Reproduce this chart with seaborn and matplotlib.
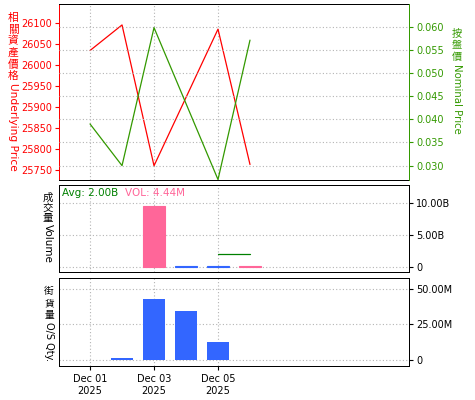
import numpy as np
import pandas as pd
import matplotlib
matplotlib.use('Agg')
import matplotlib.pyplot as plt
import seaborn as sns

# price lines (day of Dec 2025)
price_days = [1, 2, 3, 5, 6]
underlying = [26035, 26096, 25760, 26086, 25763]
nominal = [0.0390, 0.0300, 0.0598, 0.0270, 0.0571]

# volume panel (billions)
vol_days = [3, 4, 5, 6]
volume_b = [9.5, 0.12, 0.12, 0.12]
vol_dir = ['up', 'down', 'down', 'up']
avg_days = [5, 6]
avg_vol = [2.0, 2.0]

# outstanding quantity (millions)
os_days = [2, 3, 4, 5]
os_qty = [1.4, 43.0, 34.5, 12.9]

x_ticks = [1, 3, 5]
x_labels = ['Dec 01\n2025', 'Dec 03\n2025', 'Dec 05\n2025']
left_ticks = [25750, 25800, 25850, 25900, 25950, 26000, 26050, 26100]
right_ticks = [0.030, 0.035, 0.040, 0.045, 0.050, 0.055, 0.060]
vol_ticks = [0, 5, 10]
vol_labels = ['0', '5.00B', '10.00B']
os_ticks = [0, 25, 50]
os_labels = ['0', '25.00M', '50.00M']

RED = '#ff0000'
GREEN = '#339900'
DKGREEN = '#008000'
PINK = '#ff6699'
BLUE = '#3366ff'
GRID = '#b4b4b4'
CJK = 'Noto Sans CJK TC'

sns.set_theme(style='white')
plt.rcParams['font.family'] = ['DejaVu Sans', CJK]

W, H = 475, 400
fig = plt.figure(figsize=(W / 100, H / 100), dpi=100)
fig.patch.set_facecolor('white')


def box(top, bottom):
    return [59 / W, 1 - bottom / H, 350 / W, (bottom - top) / H]


ax1 = fig.add_axes(box(4, 180))
ax2 = fig.add_axes(box(185, 272), sharex=ax1)
ax3 = fig.add_axes(box(278, 366), sharex=ax1)
tw = ax1.twinx()

prices = pd.DataFrame({'day': price_days, 'under': underlying, 'nom': nominal})
sns.lineplot(data=prices, x='day', y='under', color=RED, lw=0.9, ax=ax1)
sns.lineplot(data=prices, x='day', y='nom', color=GREEN, lw=0.9, ax=tw)

vols = pd.DataFrame({'day': vol_days, 'vol': volume_b, 'dir': vol_dir})
sns.barplot(data=vols, x='day', y='vol', hue='dir', palette={'up': PINK, 'down': BLUE},
            native_scale=True, width=0.69, dodge=False, legend=False, saturation=1,
            ax=ax2)
for p in ax2.patches:
    p.set_edgecolor(p.get_facecolor())
    p.set_linewidth(0.8)
sns.lineplot(x=avg_days, y=avg_vol, color=DKGREEN, lw=0.9, ax=ax2)

oss = pd.DataFrame({'day': os_days, 'qty': os_qty})
sns.barplot(data=oss, x='day', y='qty', color=BLUE, saturation=1,
            native_scale=True, width=0.69, linewidth=0, ax=ax3)

ax1.set_ylim(25726, 26146)
tw.set_ylim(0.0269, 0.0649)
ax2.set_ylim(-0.8, 12.8)
ax3.set_ylim(-4.2, 57.7)

dot = (0, (1, 1))
for ax in (ax1, ax2, ax3, tw):
    ax.set_xlabel('')
    ax.set_ylabel('')
    ax.set_facecolor('none')
    for s in ax.spines.values():
        s.set_linewidth(0.72)
        s.set_color('black')
        s.set_linestyle(dot)

# panel 1
ax1.set_xticks(x_ticks)
ax1.set_yticks(left_ticks)
ax1.yaxis.set_major_formatter(matplotlib.ticker.StrMethodFormatter('{x:.0f}'))
ax1.tick_params(axis='y', colors=RED, labelsize=7, length=3, width=0.8, pad=2,
                left=True, labelleft=True)
ax1.tick_params(axis='x', length=0, labelbottom=False)
ax1.spines['left'].set_linestyle('-')
ax1.spines['left'].set_color(RED)
ax1.spines['right'].set_visible(False)
ax1.grid(axis='x', color=GRID, ls=(0, (1, 2)), lw=0.8)

tw.set_yticks(right_ticks)
tw.yaxis.set_major_formatter(matplotlib.ticker.StrMethodFormatter('{x:.3f}'))
tw.tick_params(axis='y', colors=GREEN, labelsize=7, length=3, width=0.8, pad=2, right=True)
tw.spines['right'].set_linestyle('-')
tw.spines['right'].set_color(GREEN)
for s in ('left', 'top', 'bottom'):
    tw.spines[s].set_visible(False)
tw.grid(axis='y', color=GRID, ls=(0, (1, 2)), lw=0.8)

# panels 2 and 3
for ax, ticks, labels in ((ax2, vol_ticks, vol_labels), (ax3, os_ticks, os_labels)):
    ax.yaxis.tick_right()
    ax.set_yticks(ticks)
    ax.set_yticklabels(labels)
    ax.tick_params(axis='y', colors='black', labelsize=7, length=3, width=0.8, pad=2,
                   right=True, left=False)
    ax.spines['right'].set_linestyle('-')
    ax.grid(True, color=GRID, ls=(0, (1, 2)), lw=0.8)
    ax.set_axisbelow(True)

ax2.tick_params(axis='x', length=0, labelbottom=False)
ax3.spines['bottom'].set_linestyle('-')
ax3.set_xticks(x_ticks)
ax3.set_xticklabels(x_labels)
ax3.tick_params(axis='x', labelsize=7, length=3, width=0.8, pad=3, bottom=True,
                colors='black')
ax1.set_xlim(0.03, 10.97)

ax2.text(0.008, 0.97, 'Avg: 2.00B', transform=ax2.transAxes, color=DKGREEN,
         fontsize=7.5, ha='left', va='top')
ax2.text(0.188, 0.97, 'VOL: 4.44M', transform=ax2.transAxes, color=PINK,
         fontsize=7.5, ha='left', va='top')


def vlabel(x, y0, cjk, latin, color, size, step):
    for i, ch in enumerate(cjk):
        fig.text(x / W, 1 - (y0 + step * i + step / 2) / H, ch, ha='center', va='center',
                 fontsize=size, color=color, family=CJK)
    fig.text(x / W, 1 - (y0 + step * len(cjk) + 1) / H, latin, rotation=270,
             ha='center', va='top', fontsize=size, color=color)


vlabel(13, 12, '相關資產價格', 'Underlying Price', RED, 7.7, 11.7)
vlabel(457, 28, '按盤價', 'Nominal Price', GREEN, 7.3, 11.7)
vlabel(48, 193, '成交量', 'Volume', 'black', 7.5, 10)
vlabel(49, 285, '街貨量', 'O/S Qty.', 'black', 7, 12)

fig.savefig('out.png', dpi=100)
